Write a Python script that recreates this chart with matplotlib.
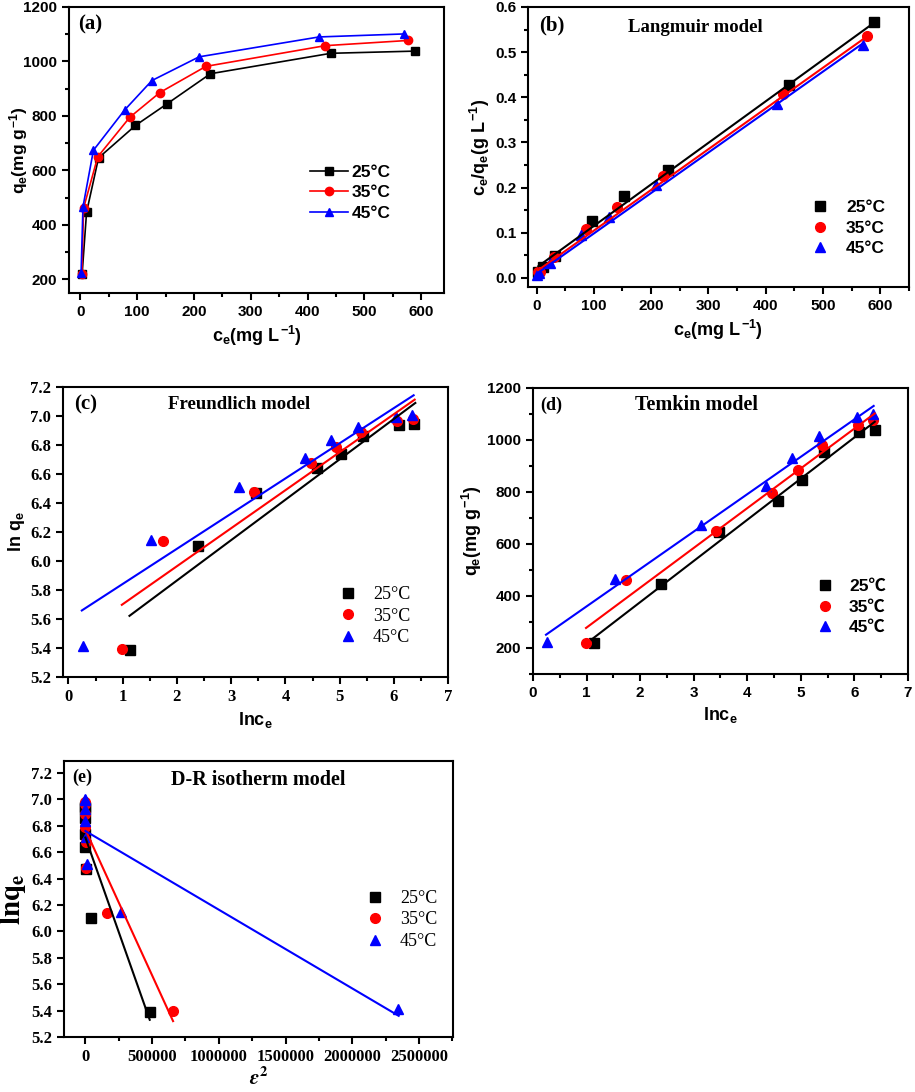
import numpy as np
import matplotlib
matplotlib.use('Agg')
import matplotlib.pyplot as plt
from matplotlib.ticker import MultipleLocator

# Equilibrium data
ce_25 = [3.1, 10.9, 32, 97, 153, 229, 441, 589]
qe_25 = [219, 446, 646, 765, 845, 955, 1030, 1038]
ce_35 = [2.7, 5.7, 30.6, 87, 140, 221, 431, 576]
qe_35 = [220, 462, 650, 795, 886, 982, 1058, 1077]
ce_45 = [1.3, 4.6, 23, 78, 126, 209, 420, 569]
qe_45 = [224, 466, 674, 822, 930, 1017, 1090, 1101]

# Polanyi potential squared
eps2_25 = [482000, 45000, 6000, 700, 300, 100, 30, 20]
eps2_35 = [657000, 165000, 6800, 900, 380, 150, 40, 25]
eps2_45 = [2343000, 270000, 12500, 1100, 430, 160, 40, 22]

# Fitted line end points (x0, x1), (y0, y1)
lang_fit = {'25': ([3.1, 590], [0.026, 0.566]),
            '35': ([2.7, 577], [0.017, 0.535]),
            '45': ([1.3, 568], [0.010, 0.518])}
freund_fit = {'25': ([1.125, 6.396], [5.622, 7.090]),
              '35': ([0.984, 6.384], [5.698, 7.113]),
              '45': ([0.246, 6.365], [5.659, 7.143])}
temkin_fit = {'25': ([1.09, 6.38], [232, 1070]),
              '35': ([0.99, 6.38], [277, 1102]),
              '45': ([0.243, 6.36], [251, 1131])}
dr_fit = {'25': ([0, 482000], [6.71, 5.33]),
          '35': ([0, 657000], [6.77, 5.32]),
          '45': ([0, 2348000], [6.76, 5.36])}

temps = ['25', '35', '45']
ce = {'25': ce_25, '35': ce_35, '45': ce_45}
qe = {'25': qe_25, '35': qe_35, '45': qe_45}
eps2 = {'25': eps2_25, '35': eps2_35, '45': eps2_45}
colors = {'25': '#000000', '35': '#ff0000', '45': '#0000ff'}
markers = {'25': 's', '35': 'o', '45': '^'}

plt.rcParams['font.weight'] = 'bold'
plt.rcParams['mathtext.fontset'] = 'custom'
plt.rcParams['mathtext.rm'] = 'Liberation Sans:bold'
plt.rcParams['mathtext.it'] = 'Liberation Sans:bold'
plt.rcParams['mathtext.bf'] = 'Liberation Sans:bold'
plt.rcParams['axes.linewidth'] = 1.5

SANS = dict(family='Liberation Sans', weight='bold')
SERIF = dict(family='Liberation Serif', weight='bold')

fig = plt.figure(figsize=(9.15, 10.92), dpi=100)
all_axes = []


def style_axes(ax, family, size):
    ax.tick_params(which='both', direction='out', top=False, right=False, width=1.5,
                   labelsize=size, labelfontfamily=family)
    ax.tick_params(which='major', length=5)
    ax.tick_params(which='minor', length=3)
    all_axes.append(ax)


# (a) isotherms
ax = fig.add_axes([0.0754, 0.7317, 0.4098, 0.2619])
for t in temps:
    ax.plot(ce[t], qe[t], color=colors[t], marker=markers[t], ms=6, lw=1.2,
            label=t + '°C')
ax.set_xlim(-20, 640)
ax.set_ylim(150, 1200)
ax.xaxis.set_major_locator(MultipleLocator(100))
ax.xaxis.set_minor_locator(MultipleLocator(50))
ax.yaxis.set_major_locator(MultipleLocator(200))
ax.yaxis.set_minor_locator(MultipleLocator(100))
style_axes(ax, 'Liberation Sans', 11)
ax.set_xlabel(r'$c_e(mg\ L^{-1})$', fontsize=13)
ax.set_ylabel(r'$q_e(mg\ g^{-1})$', fontsize=12.5)
ax.yaxis.set_label_coords(-0.105, 0.5)
ax.text(0.025, 0.94, '(a)', transform=ax.transAxes, fontsize=15, va='center', **SERIF)
ax.legend(loc='center left', bbox_to_anchor=(0.60, 0.35), frameon=False,
          prop=dict(size=12.5, **SANS), handlelength=2.2, handletextpad=0.2, labelspacing=0.3)

# (b) Langmuir
ax = fig.add_axes([0.577, 0.7372, 0.4164, 0.2564])
for t in temps:
    x = np.array(ce[t])
    ax.plot(x, x / np.array(qe[t]), ls='none', color=colors[t], marker=markers[t],
            ms=7, label=t + '°C')
for t in temps:
    ax.plot(lang_fit[t][0], lang_fit[t][1], color=colors[t], lw=1.5)
ax.set_xlim(-15, 650)
ax.set_ylim(-0.02, 0.6)
ax.xaxis.set_major_locator(MultipleLocator(100))
ax.xaxis.set_minor_locator(MultipleLocator(50))
ax.yaxis.set_major_locator(MultipleLocator(0.1))
ax.yaxis.set_minor_locator(MultipleLocator(0.05))
style_axes(ax, 'Liberation Sans', 11)
ax.set_xlabel(r'$c_e(mg\ L^{-1})$', fontsize=13)
ax.set_ylabel(r'$c_e/q_e(g\ L^{-1})$', fontsize=13, labelpad=2)
ax.text(0.03, 0.935, '(b)', transform=ax.transAxes, fontsize=15, va='center', **SERIF)
ax.text(0.44, 0.925, 'Langmuir model', transform=ax.transAxes, fontsize=13.5,
        ha='center', va='center', **SERIF)
ax.legend(loc='center left', bbox_to_anchor=(0.68, 0.21), frameon=False,
          prop=dict(size=12.5, **SANS), handletextpad=0.5, labelspacing=0.3)

# (c) Freundlich
ax = fig.add_axes([0.0689, 0.380, 0.4208, 0.2656])
for t in temps:
    ax.plot(np.log(ce[t]), np.log(qe[t]), ls='none', color=colors[t], marker=markers[t],
            ms=7, label=t + '°C')
for t in temps:
    ax.plot(freund_fit[t][0], freund_fit[t][1], color=colors[t], lw=1.5)
ax.set_xlim(-0.1, 7)
ax.set_ylim(5.2, 7.2)
ax.xaxis.set_major_locator(MultipleLocator(1))
ax.xaxis.set_minor_locator(MultipleLocator(0.5))
ax.yaxis.set_major_locator(MultipleLocator(0.2))
ax.yaxis.set_major_formatter(plt.FormatStrFormatter('%.1f'))
style_axes(ax, 'Liberation Serif', 12)
ax.set_xlabel(r'$lnc_e$', fontsize=13)
ax.set_ylabel(r'$ln\ q_e$', fontsize=13, labelpad=2)
ax.text(0.03, 0.94, '(c)', transform=ax.transAxes, fontsize=15, va='center', **SERIF)
ax.text(0.457, 0.94, 'Freundlich model', transform=ax.transAxes, fontsize=13.5,
        ha='center', va='center', **SERIF)
ax.legend(loc='center left', bbox_to_anchor=(0.65, 0.21), frameon=False,
          prop=dict(family='Liberation Serif', weight='normal', size=13),
          handletextpad=0.4, labelspacing=0.25)

# (d) Temkin
ax = fig.add_axes([0.5825, 0.3828, 0.4098, 0.2619])
for t in temps:
    ax.plot(np.log(ce[t]), qe[t], ls='none', color=colors[t], marker=markers[t],
            ms=7, label=t + '℃')
for t in temps:
    ax.plot(temkin_fit[t][0], temkin_fit[t][1], color=colors[t], lw=1.5)
ax.set_xlim(0, 7)
ax.set_ylim(100, 1200)
ax.xaxis.set_major_locator(MultipleLocator(1))
ax.xaxis.set_minor_locator(MultipleLocator(0.5))
ax.yaxis.set_major_locator(MultipleLocator(200))
ax.yaxis.set_minor_locator(MultipleLocator(100))
style_axes(ax, 'Liberation Sans', 11)
ax.set_xlabel(r'$lnc_e$', fontsize=13)
ax.set_ylabel(r'$q_e(mg\ g^{-1})$', fontsize=13, labelpad=2)
ax.text(0.02, 0.94, '(d)', transform=ax.transAxes, fontsize=13, va='center', **SERIF)
ax.text(0.437, 0.94, 'Temkin model', transform=ax.transAxes, fontsize=14.5,
        ha='center', va='center', **SERIF)
ax.legend(loc='center left', bbox_to_anchor=(0.69, 0.234), frameon=False,
          prop=dict(family=['Liberation Sans', 'Noto Sans CJK SC'], weight='bold', size=12.5),
          handletextpad=0.4, labelspacing=0.3)

# (e) D-R isotherm
ax = fig.add_axes([0.070, 0.0504, 0.4251, 0.2527])
for t in temps:
    ax.plot(eps2[t], np.log(qe[t]), ls='none', color=colors[t], marker=markers[t],
            ms=7, label=t + '°C')
for t in temps:
    ax.plot(dr_fit[t][0], dr_fit[t][1], color=colors[t], lw=1.5)
ax.set_xlim(-160000, 2755000)
ax.set_ylim(5.2, 7.29)
ax.xaxis.set_major_locator(MultipleLocator(500000))
ax.xaxis.set_minor_locator(MultipleLocator(250000))
ax.yaxis.set_major_locator(MultipleLocator(0.2))
ax.yaxis.set_major_formatter(plt.FormatStrFormatter('%.1f'))
ax.xaxis.set_major_formatter(plt.FormatStrFormatter('%d'))
style_axes(ax, 'Liberation Serif', 12)
ax.set_xlabel(r'$\varepsilon^2$', fontsize=15, math_fontfamily='stix', labelpad=1)
ax.set_ylabel(r'$\mathbf{lnq_e}$', fontsize=21, math_fontfamily='stix', labelpad=2)
ax.text(0.02, 0.94, '(e)', transform=ax.transAxes, fontsize=13, va='center', **SERIF)
ax.text(0.5, 0.93, 'D-R isotherm model', transform=ax.transAxes, fontsize=14.5,
        ha='center', va='center', **SERIF)
ax.legend(loc='center left', bbox_to_anchor=(0.71, 0.424), frameon=False,
          prop=dict(family='Liberation Serif', weight='normal', size=13),
          handletextpad=0.4, labelspacing=0.25)

# make sure tick labels are bold
fig.canvas.draw()
for a in all_axes:
    for lab in a.get_xticklabels() + a.get_yticklabels():
        lab.set_fontweight('bold')

fig.savefig('out.png', dpi=100)
